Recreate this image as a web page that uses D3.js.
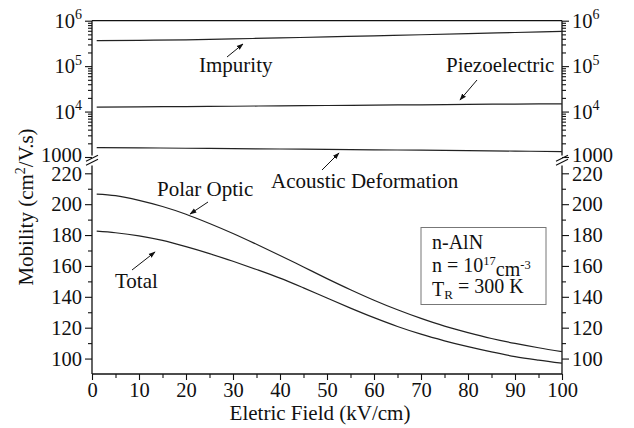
<!DOCTYPE html>
<html><head><meta charset="utf-8">
<script src="https://cdn.jsdelivr.net/npm/d3@7"></script>
<style>
body{margin:0;background:#fff;}
svg text{font-family:"Liberation Serif","Times New Roman",serif;fill:#111;}
</style></head>
<body><svg id="c" width="634" height="428"></svg>
<script>
// ---------- data ----------
const fieldX = [1,5,10,15,20,25,30,35,40,45,50,55,60,65,70,75,80,85,90,95,100];
const polarOptic = [206.5,205.5,202.5,198.5,193.5,187.5,181,174,166.8,159.3,151.8,144.6,137.8,131.6,126,121,116.8,113,109.8,107,104.5];
const total = [182.5,181.5,179.5,176.5,172.5,168,163,157.7,152.1,145.8,139.2,132.7,126.5,120.8,115.8,111.5,107.7,104.3,101.3,99,97];
const logX = [1,10,20,30,40,50,60,70,80,90,100];
const impurity = [3.65e5,3.7e5,3.8e5,3.98e5,4.18e5,4.4e5,4.64e5,4.9e5,5.2e5,5.5e5,5.8e5];
const piezoelectric = [1.25e4,1.27e4,1.29e4,1.31e4,1.34e4,1.36e4,1.39e4,1.41e4,1.44e4,1.46e4,1.48e4];
const acoustic = [1.61e3,1.59e3,1.56e3,1.53e3,1.5e3,1.47e3,1.44e3,1.41e3,1.38e3,1.35e3,1.31e3];
const xTicks = [0,10,20,30,40,50,60,70,80,90,100];
const xMinor = [5,15,25,35,45,55,65,75,85,95];
const linTicks = [100,120,140,160,180,200,220];
const linMinor = [110,130,150,170,190,210];
const logTicks = [1e3,1e4,1e5,1e6];
const logTickLabels = [["1000",""],["10","4"],["10","5"],["10","6"]];
const xTitle = "Eletric Field (kV/cm)";

// ---------- layout ----------
const svg = d3.select("#c");
const L = 92, R = 562, T = 20.7, B = 374;
const FS = 21, TFS = 20.5;
const x = d3.scaleLinear().domain([0,100]).range([L,R]);
const yLog = d3.scaleLog().domain([1e3,1e6]).range([157,T]);
const yLin = d3.scaleLinear().domain([90,220]).range([B,173.3]);
const linTop = 165.5, logBot = 155.5;
const col = "#111";

svg.append("line").attr("x1",L).attr("x2",R).attr("y1",T).attr("y2",T).attr("stroke",col).attr("stroke-width",1.3);

function styleAxis(g){
  g.select(".domain").remove();
  g.selectAll("line").attr("stroke",col).attr("stroke-width",1.1);
  g.selectAll("text").attr("font-size",TFS).attr("fill","#111").style("font-family","Liberation Serif, serif");
}
const logMinor = [];
[1e3,1e4,1e5].forEach(d=>{for(let k=2;k<=9;k++) logMinor.push(d*k);});

[["left",L],["right",R]].forEach(([side,xp])=>{
  const mk = side==="left" ? d3.axisLeft : d3.axisRight;
  svg.append("line").attr("x1",xp).attr("x2",xp).attr("y1",T).attr("y2",logBot).attr("stroke",col).attr("stroke-width",1.3);
  svg.append("line").attr("x1",xp).attr("x2",xp).attr("y1",linTop).attr("y2",B).attr("stroke",col).attr("stroke-width",1.3);
  [158.2,162.2].forEach(yc=>{
    svg.append("line").attr("x1",xp-6).attr("x2",xp+6).attr("y1",yc+3).attr("y2",yc-3).attr("stroke",col).attr("stroke-width",1.2);
  });
  svg.append("g").attr("transform",`translate(${xp},0)`)
    .call(mk(yLog).tickValues(logMinor).tickSize(4).tickFormat(""))
    .call(styleAxis);
  const gl = svg.append("g").attr("transform",`translate(${xp},0)`)
    .call(mk(yLog).tickValues(logTicks).tickSize(7).tickFormat(""))
    .call(styleAxis);
  gl.selectAll(".tick").each(function(d){
    const lab = logTickLabels[logTicks.indexOf(d)];
    const t = d3.select(this).append("text")
      .attr("x", side==="left"?-10:10).attr("y", d===1e3?-2.5:0).attr("dy","0.32em")
      .attr("text-anchor", side==="left"?"end":"start")
      .attr("font-size",TFS).attr("fill","#111");
    t.append("tspan").text(lab[0]);
    if(lab[1]) t.append("tspan").attr("font-size",14).attr("dy","-0.6em").text(lab[1]);
  });
  svg.append("g").attr("transform",`translate(${xp},0)`)
    .call(mk(yLin).tickValues(linMinor).tickSize(4).tickFormat(""))
    .call(styleAxis);
  const gm = svg.append("g").attr("transform",`translate(${xp},0)`)
    .call(mk(yLin).tickValues(linTicks).tickSize(7).tickPadding(3).tickFormat(d3.format("d")))
    .call(styleAxis);
  gm.selectAll(".tick").filter(d=>d===220).select("text").attr("y",1);
});

svg.append("line").attr("x1",L).attr("x2",R).attr("y1",B).attr("y2",B).attr("stroke",col).attr("stroke-width",1.3);
svg.append("g").attr("transform",`translate(0,${B})`)
  .call(d3.axisBottom(x).tickValues(xMinor).tickSize(4).tickFormat("")).call(styleAxis);
svg.append("g").attr("transform",`translate(0,${B})`)
  .call(d3.axisBottom(x).tickValues(xTicks).tickSize(6).tickPadding(2).tickFormat(d3.format("d"))).call(styleAxis);

svg.append("text").attr("x",(L+R)/2-7).attr("y",420).attr("text-anchor","middle").attr("font-size",FS).text(xTitle);
const yt = svg.append("text").attr("transform","translate(33,207) rotate(-90)").attr("text-anchor","middle").attr("font-size",FS);
yt.append("tspan").text("Mobility (cm");
yt.append("tspan").attr("font-size",14).attr("dy","-0.6em").text("2");
yt.append("tspan").attr("dy","0.4em").text("/V.s)");

const lineLin = d3.line().x((d,i)=>x(fieldX[i])).y(d=>yLin(d)).curve(d3.curveMonotoneX);
const lineLog = d3.line().x((d,i)=>x(logX[i])).y(d=>yLog(d)).curve(d3.curveMonotoneX);
[polarOptic,total].forEach(s=>svg.append("path").attr("d",lineLin(s)).attr("fill","none").attr("stroke","#222").attr("stroke-width",1.2));
[impurity,piezoelectric,acoustic].forEach(s=>svg.append("path").attr("d",lineLog(s)).attr("fill","none").attr("stroke","#222").attr("stroke-width",1.2));

const defs = svg.append("defs");
defs.append("marker").attr("id","ah").attr("viewBox","0 0 10 10").attr("refX",9).attr("refY",5)
  .attr("markerWidth",7).attr("markerHeight",7).attr("orient","auto")
  .append("path").attr("d","M0,1.5 L10,5 L0,8.5 Z").attr("fill","#111");
function arrow(x1,y1,x2,y2){
  svg.append("line").attr("x1",x1).attr("y1",y1).attr("x2",x2).attr("y2",y2)
    .attr("stroke","#111").attr("stroke-width",1).attr("marker-end","url(#ah)");
}
function label(txt,xx,yy,fs){svg.append("text").attr("x",xx).attr("y",yy).attr("font-size",fs||FS).text(txt);}
label("Impurity",199,72); arrow(227,57,243,44);
label("Piezoelectric",446,72); arrow(477,80,460,100);
label("Acoustic Deformation",271,188); arrow(322,170,339,153);
label("Polar Optic",157,196); arrow(208,202,190,214);
label("Total",115,288); arrow(132,270,155,252);

svg.append("rect").attr("x",421).attr("y",227.5).attr("width",125).attr("height",77).attr("fill","none").attr("stroke","#777").attr("stroke-width",1);
label("n-AlN",432,248.5,20);
const t2 = svg.append("text").attr("x",432).attr("y",271.5).attr("font-size",20);
t2.append("tspan").text("n = 10");
t2.append("tspan").attr("font-size",12.5).attr("dy","-0.55em").text("17");
t2.append("tspan").attr("dy","0.55em").text("cm");
t2.append("tspan").attr("font-size",12.5).attr("dy","-0.55em").text("-3");
const t3 = svg.append("text").attr("x",432).attr("y",295.5).attr("font-size",20);
t3.append("tspan").text("T");
t3.append("tspan").attr("font-size",13).attr("dy","0.3em").text("R");
t3.append("tspan").attr("dy","-0.3em").text(" = 300 K");
</script></body></html>
